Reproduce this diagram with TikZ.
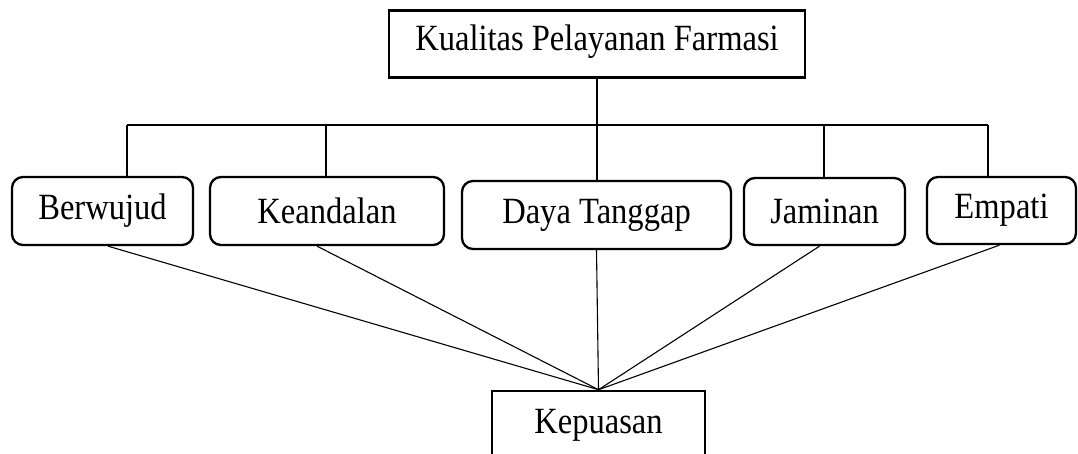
\documentclass[tikz,border=0pt]{standalone}
\usepackage{fontspec}
\setmainfont[FakeStretch=0.88]{Liberation Serif}
\begin{document}
\begin{tikzpicture}[x=1pt,y=-1pt,
  box/.style={draw, line width=2.6pt, inner sep=0pt, font=\fontsize{37}{44}\selectfont},
  rbox/.style={box, rounded corners=11pt, line width=2.3pt},
  conn/.style={line width=1.1pt}]
\useasboundingbox (0,0) rectangle (1078,453);
\clip (0,0) rectangle (1078,453);
\node[box, minimum width=416pt, minimum height=67pt, text depth=13pt] (top) at (597,44) {Kualitas Pelayanan Farmasi};
\node[rbox, minimum width=181pt, minimum height=68pt] (b1) at (102.5,211) {Berwujud};
\node[rbox, minimum width=234pt, minimum height=68pt] (b2) at (327,211) {Keandalan};
\node[rbox, minimum width=269pt, minimum height=68pt] (b3) at (596.5,215) {Daya Tanggap};
\node[rbox, minimum width=161pt, minimum height=67pt] (b4) at (824.5,211.5) {Jaminan};
\node[rbox, minimum width=149pt, minimum height=67pt] (b5) at (1001.5,210.5) {Empati};
\node[box, minimum width=213pt, minimum height=68pt] (kep) at (598.5,425) {Kepuasan};
\coordinate (bus1) at (127,125);
\coordinate (bus2) at (326,125);
\coordinate (bus3) at (597,125);
\coordinate (bus4) at (824,125);
\coordinate (bus5) at (988,125);
\draw[conn] (top.south) -- (top.south |- bus3);
\draw[conn] (bus1) -- (bus5);
\foreach \i in {1,...,5} {
  \draw[conn] (bus\i) -- (bus\i |- b\i.north);
}
\draw[conn] ([xshift=5.5pt]b1.south) -- (kep.north);
\draw[conn] ([xshift=-10pt]b2.south) -- (kep.north);
\draw[conn] (b3.south) -- (kep.north);
\draw[conn] ([xshift=-5pt]b4.south) -- (kep.north);
\draw[conn] ([xshift=-2pt]b5.south) -- (kep.north);
\end{tikzpicture}
\end{document}
